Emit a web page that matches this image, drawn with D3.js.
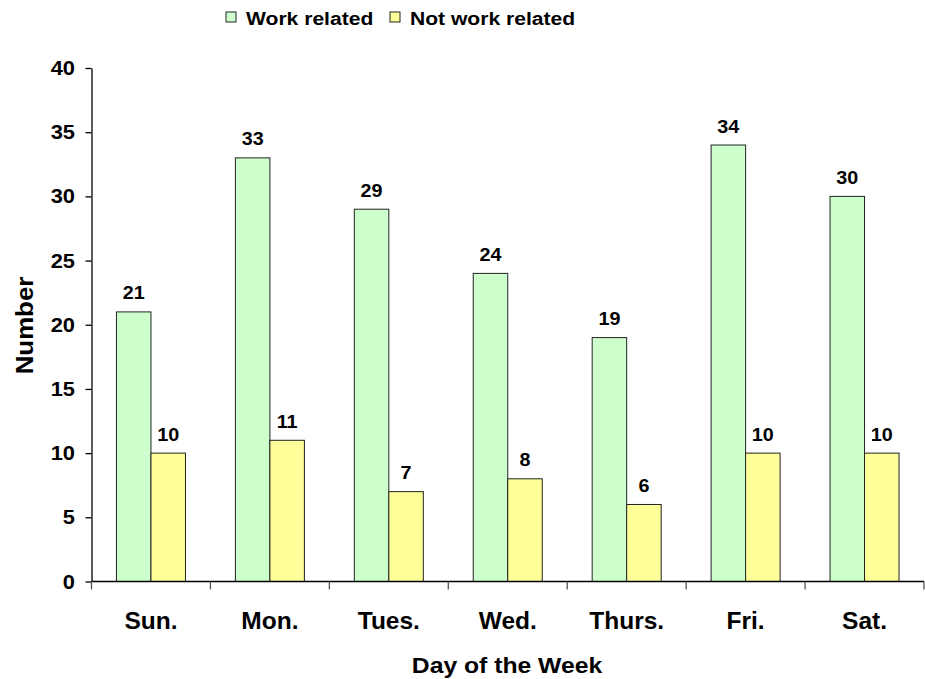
<!DOCTYPE html>
<html lang="en">
<head>
    <meta charset="UTF-8">
    <title>Work related vs not work related by day</title>
    <script src="https://d3js.org/d3.v7.min.js"></script>
    <style>
        body { margin: 0; background: #fff; }
        text { font-family: "Liberation Sans", Arial, sans-serif; font-weight: bold; fill: #000; }
    </style>
</head>
<body>
    <div id="chart"></div>
    <script>
        // data
        const days = ['Sun.', 'Mon.', 'Tues.', 'Wed.', 'Thurs.', 'Fri.', 'Sat.'];
        const workRelated = [21, 33, 29, 24, 19, 34, 30];
        const notWorkRelated = [10, 11, 7, 8, 6, 10, 10];
        const seriesNames = ['Work related', 'Not work related'];
        const yTicks = [0, 5, 10, 15, 20, 25, 30, 35, 40];

        const width = 925, height = 679;
        const colors = ['#ccffcc', '#ffff99'];

        const svg = d3.select('#chart').append('svg')
            .attr('width', width)
            .attr('height', height);

        const x0 = d3.scaleBand().domain(days).range([91.5, 924]).padding(0);
        const x1 = d3.scaleBand().domain(seriesNames).range([0, 69]).padding(0);
        const y = d3.scaleLinear().domain([0, 40]).range([581.5, 68]);

        // text helper: the source chart was stretched a bit sideways
        function label(g, str, x, yy, size, sx, anchor) {
            return g.append('text')
                .attr('transform', `translate(${x},${yy}) scale(${sx},1)`)
                .attr('text-anchor', anchor || 'middle')
                .style('font-size', size + 'px')
                .text(str);
        }

        // bars
        const rows = days.map((d, i) => ({ day: d, vals: [workRelated[i], notWorkRelated[i]] }));
        const groups = svg.selectAll('.day')
            .data(rows)
            .enter().append('g')
            .attr('class', 'day')
            .attr('transform', d => `translate(${x0(d.day) + x0.bandwidth() / 2 - 34.5},0)`);

        groups.selectAll('rect')
            .data(d => d.vals.map((v, k) => ({ v, k })))
            .enter().append('rect')
            .attr('x', d => x1(seriesNames[d.k]))
            .attr('y', d => y(d.v))
            .attr('width', x1.bandwidth())
            .attr('height', d => y(0) - y(d.v))
            .attr('fill', d => colors[d.k])
            .attr('stroke', '#222')
            .attr('stroke-width', 1);

        groups.each(function (d) {
            const g = d3.select(this);
            d.vals.forEach((v, k) => {
                label(g, v, x1(seriesNames[k]) + x1.bandwidth() / 2, y(v) - 12.5, 17.5, 1.13);
            });
        });

        // y axis
        const yAxis = svg.append('g')
            .attr('transform', 'translate(91.5,0)')
            .call(d3.axisLeft(y).tickValues(yTicks).tickSize(6).tickSizeOuter(0).tickPadding(10));
        yAxis.select('.domain').attr('stroke', '#000').attr('stroke-width', 1.3);
        yAxis.selectAll('.tick line').attr('stroke', '#000').attr('stroke-width', 1.3);
        yAxis.selectAll('.tick text').remove();
        yTicks.forEach(t => label(svg, t, 75, y(t) + 7, 19.5, 1.12, 'end'));

        // x axis: line plus ticks between categories
        const xAxis = svg.append('g');
        xAxis.append('line')
            .attr('x1', 91.5).attr('x2', 924)
            .attr('y1', y(0)).attr('y2', y(0))
            .attr('stroke', '#000').attr('stroke-width', 1.3);
        xAxis.selectAll('.xt')
            .data(days.concat(['end']))
            .enter().append('line')
            .attr('class', 'xt')
            .attr('x1', (d, i) => i < days.length ? x0(d) : x0.range()[1])
            .attr('x2', (d, i) => i < days.length ? x0(d) : x0.range()[1])
            .attr('y1', y(0)).attr('y2', y(0) + 8)
            .attr('stroke', '#555').attr('stroke-width', 1.3);
        days.forEach(d => label(svg, d, x0(d) + x0.bandwidth() / 2, 628.5, 24.5, 1.0));

        // axis titles
        label(svg, 'Day of the Week', 507, 672.5, 21.5, 1.15);
        svg.append('text')
            .attr('transform', 'translate(32.5,325.5) rotate(-90) scale(1.1,1)')
            .attr('text-anchor', 'middle')
            .style('font-size', '23.5px')
            .text('Number');

        // legend
        const legendX = [226, 390];
        seriesNames.forEach((name, k) => {
            svg.append('rect')
                .attr('x', legendX[k]).attr('y', 12)
                .attr('width', 10).attr('height', 10)
                .attr('fill', colors[k])
                .attr('stroke', '#222');
            label(svg, name, legendX[k] + 20, 24.5, 18.5, 1.14, 'start');
        });
    </script>
</body>
</html>
